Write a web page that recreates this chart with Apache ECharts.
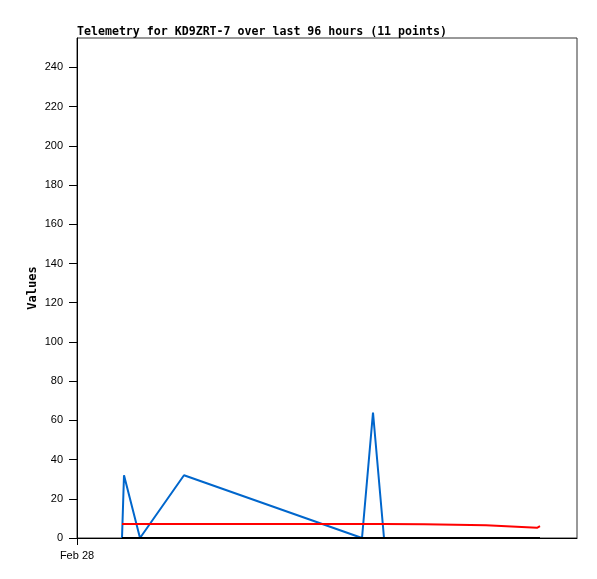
<!DOCTYPE html>
<html>
<head>
<meta charset="utf-8">
<script src="https://cdn.jsdelivr.net/npm/echarts@6/dist/echarts.min.js"></script>
<style>html,body{margin:0;padding:0;background:#fff;}#c{width:597px;height:579px;}</style>
</head>
<body>
<div id="c"></div>
<script>
// hours since Feb 28 00:00
var hours = [10.35, 10.81, 14.49, 24.61, 65.55, 68.08, 70.61, 79.81, 94.07, 105.8, 106.49];
var blueVals = [0, 32, 0, 32, 0, 64, 0, 0, 0, 0, 0];
var redVals = [7.2, 7.2, 7.2, 7.2, 7.2, 7.2, 7.2, 7.0, 6.5, 5.2, 6.0];
var blackVals = [0, 0, 0, 0, 0, 0, 0, 0, 0, 0, 0];
var yTicks = [0, 20, 40, 60, 80, 100, 120, 140, 160, 180, 200, 220, 240];
var xLabel = 'Feb 28';
var titleText = 'Telemetry for KD9ZRT-7 over last 96 hours (11 points)';

function pairs(v) { return hours.map(function (h, i) { return [h, v[i]]; }); }

var chart = echarts.init(document.getElementById('c'), null, {renderer: 'canvas'});
chart.setOption({
  animation: false,
  backgroundColor: '#fff',
  title: {
    text: titleText, left: 72, top: 21,
    textStyle: {fontFamily: 'DejaVu Sans Mono', fontWeight: 'bold', fontSize: 11.6, color: '#000'}
  },
  grid: {left: 77, top: 38, width: 500, height: 500, show: true, borderColor: '#333', borderWidth: 1, backgroundColor: 'transparent'},
  xAxis: {
    type: 'value', min: 0, max: 115, interval: 115,
    axisLine: {show: true, onZero: false, lineStyle: {color: '#000', width: 1}},
    axisTick: {show: true, length: 7, customValues: [0], lineStyle: {color: '#000'}},
    splitLine: {show: false},
    axisLabel: {
      customValues: [0], margin: 12,
      fontFamily: 'Liberation Sans', fontSize: 11, color: '#000',
      formatter: function (v) { return v === 0 ? xLabel : ''; }
    }
  },
  yAxis: {
    type: 'value', min: 0, max: 255, interval: 20,
    name: 'Values', nameLocation: 'middle', nameGap: 38, nameRotate: 90, nameMoveOverlap: false,
    nameTextStyle: {fontFamily: 'DejaVu Sans Mono', fontWeight: 'bold', fontSize: 12, color: '#000'},
    axisLine: {show: true, lineStyle: {color: '#000', width: 1}},
    axisTick: {show: true, length: 8, customValues: yTicks, lineStyle: {color: '#000'}},
    splitLine: {show: false},
    axisLabel: {customValues: yTicks, margin: 14, fontFamily: 'Liberation Sans', fontSize: 11, color: '#000'}
  },
  series: [
    {type: 'line', data: pairs(blueVals), showSymbol: false, lineStyle: {color: '#0066cc', width: 2}, z: 3},
    {type: 'line', data: pairs(redVals), showSymbol: false, lineStyle: {color: '#ff0000', width: 2}, z: 4},
    {type: 'line', data: pairs(blackVals), showSymbol: false, lineStyle: {color: '#000', width: 2}, z: 5}
  ]
});
</script>
</body>
</html>
